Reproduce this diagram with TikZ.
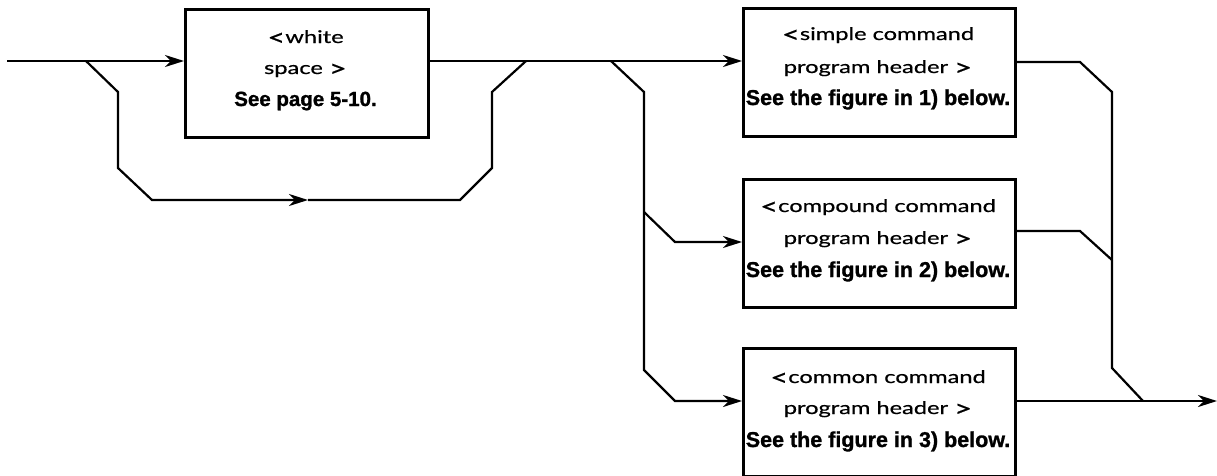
\documentclass[tikz,border=0pt]{standalone}
\usepackage{fontspec}
\usetikzlibrary{arrows.meta}
\newfontfamily\hfont{Lato}[FakeStretch=1.35,FakeBold=0.6]
\newfontfamily\bfont{Liberation Sans}[BoldFeatures={FakeBold=1.2}]
% larger angle brackets for the syntax names
\newcommand{\ltb}{\raisebox{-2.5pt}{\fontsize{23}{23}\selectfont<}}
\newcommand{\gtb}{\raisebox{-2.5pt}{\fontsize{23}{23}\selectfont>}}
\begin{document}
\begin{tikzpicture}[x=1pt,y=-1pt,
  box/.style={draw, line width=2.7pt, anchor=north west, inner sep=0pt,
    minimum width=272pt, minimum height=128pt},
  wire/.style={line width=2.2pt},
  arr/.style={wire, -{Stealth[length=19pt,width=12pt,inset=6pt]}},
  tname/.style={font=\hfont\fontsize{17.5}{17.5}\selectfont, anchor=base, inner sep=0pt},
  tref/.style={font=\bfont\bfseries\fontsize{21.5}{21.5}\selectfont, anchor=base, inner sep=0pt}]
\useasboundingbox (0,0) rectangle (1217,475);

% boxes
\node[box, minimum width=243pt] (ws) at (184,8) {};
\node[box] (simple) at (742,7) {};
\node[box] (compound) at (742,178) {};
\node[box] (common) at (742,347) {};

% box texts
\node[tname] (ws1) at (305.5,43) {\ltb white};
\node[tname] (ws2) at (305.5,74) {space \gtb};
\node[tref, font=\bfont\bfseries\fontsize{20.5}{20.5}\selectfont] (ws3) at (305.5,106) {See page 5-10.};

\node[tname] (s1) at (878,40) {\ltb simple command};
\node[tname] (s2) at (878,73) {program header \gtb};
\node[tref]  (s3) at (878,105) {See the figure in 1) below.};

\node[tname] (c1) at (878,212) {\ltb compound command};
\node[tname] (c2) at (878,244) {program header \gtb};
\node[tref]  (c3) at (878,277) {See the figure in 2) below.};

\node[tname] (m1) at (878,383) {\ltb common command};
\node[tname] (m2) at (878,414) {program header \gtb};
\node[tref]  (m3) at (878,447) {See the figure in 3) below.};

% junction points
\coordinate (start) at (7,61);
\coordinate (skipA) at (86,61);
\coordinate (skipB) at (526,61);
\coordinate (fork) at (611,61);
\coordinate (fork2) at (644,212);
\coordinate (skipmid) at (308,200);
\coordinate (join1) at (1112,260);
\coordinate (join2) at (1143,401);
\coordinate (out) at (1217,401);

% main line and optional white space
\draw[arr] (start) -- (start -| ws.west);
\draw[arr] (ws.east |- skipB) -- (simple.west |- skipB);
\draw[arr] (skipA) -- (118,92) -- (118,168) -- (152,200) -- (skipmid);
\draw[wire] (skipmid) -- (460,200) -- (492,168) -- (492,92) -- (skipB);

% branches into the three headers
\draw[arr] (fork) -- (644,92) -- (644,370) -- (675,401) -- (common.west |- out);
\draw[arr] (fork2) -- (675,242) -- (compound.west |- 0,242);

% merging outputs
\draw[wire] (simple.east |- 0,62) -- (1080,62) -- (1112,92) -- (1112,368) -- (join2);
\draw[wire] (compound.east |- 0,231) -- (1080,231) -- (join1);
\draw[arr] (common.east |- out) -- (out);
\end{tikzpicture}
\end{document}
